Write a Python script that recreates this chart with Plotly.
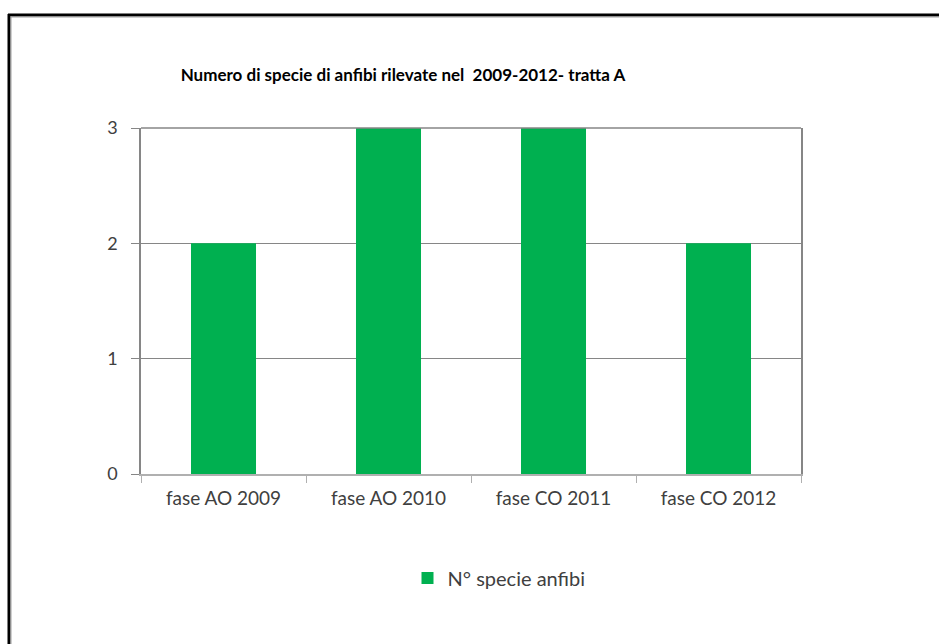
import plotly.graph_objects as go

categories = ["fase AO 2009", "fase AO 2010", "fase CO 2011", "fase CO 2012"]
values = [2, 3, 3, 2]
series_name = "N° specie anfibi"
title_text = "Numero di specie di anfibi rilevate nel  2009-2012- tratta A"

W, H = 939, 644
L, R, T, B = 141, 801, 128, 474

def px(x):
    return (x - L) / (R - L)

def py(y):
    return (B - y) / (B - T)

fig = go.Figure()
fig.add_trace(go.Bar(
    x=categories, y=values, name=series_name,
    marker=dict(color="#00B050", line=dict(width=0)),
    showlegend=True,
))

shapes = [
    # outer frame (top and left black lines with grey shadow)
    dict(type="line", xref="paper", yref="paper", x0=px(8), x1=px(W + 5), y0=py(15), y1=py(15),
         line=dict(color="#000000", width=3)),
    dict(type="line", xref="paper", yref="paper", x0=px(9), x1=px(W + 5), y0=py(17), y1=py(17),
         line=dict(color="#a0a0a0", width=1)),
    dict(type="line", xref="paper", yref="paper", x0=px(9), x1=px(9), y0=py(14), y1=py(H + 5),
         line=dict(color="#000000", width=3)),
    dict(type="line", xref="paper", yref="paper", x0=px(11), x1=px(11), y0=py(16), y1=py(H + 5),
         line=dict(color="#a0a0a0", width=1)),
    # top edge of plot area (gridline at the top of the range)
    dict(type="line", xref="paper", yref="paper", x0=0, x1=1, y0=1, y1=1,
         line=dict(color="#868686", width=1.5)),
]

fig.update_layout(
    width=W, height=H,
    margin=dict(l=L, r=W - R, t=T, b=H - B, pad=0),
    paper_bgcolor="white", plot_bgcolor="white",
    bargap=0.606,
    font=dict(family="Lato, 'Open Sans', sans-serif", size=19, color="#404040"),
    title=dict(text=title_text, x=403 / W, xanchor="center", y=1 - 75 / H, yanchor="middle",
               font=dict(family="Lato, sans-serif", size=17, color="#000000", weight="bold")),
    xaxis=dict(type="category", showline=True, linecolor="#b0b0b0", linewidth=1.5,
               ticks="outside", tickson="boundaries", ticklen=7, tickcolor="#b0b0b0",
               showgrid=False, tickfont=dict(size=19, color="#404040"),
               ticklabelstandoff=6, automargin=False),
    yaxis=dict(range=[0, 3], tickvals=[0, 1, 2, 3], showline=True, mirror=True,
               linecolor="#868686", linewidth=1.5, ticks="outside", ticklen=8, tickcolor="#868686",
               showgrid=True, gridcolor="#868686", gridwidth=1.2, zeroline=False,
               tickfont=dict(size=18, color="#404040"), ticklabelstandoff=10, automargin=False),
    legend=dict(orientation="h", x=499 / W, xref="container", xanchor="center",
                y=1 - 578 / H, yref="container", yanchor="middle",
                font=dict(size=20, color="#404040"), itemwidth=30),
    shapes=shapes,
)

fig.write_html("out.html")
